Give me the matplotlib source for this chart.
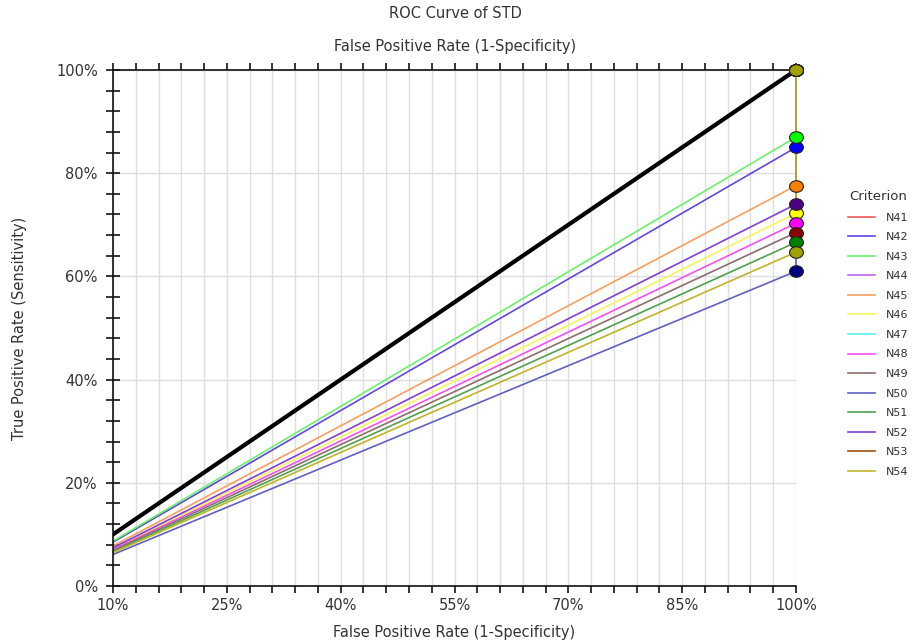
import numpy as np
import matplotlib
matplotlib.use("Agg")
import matplotlib.pyplot as plt
from matplotlib.ticker import MultipleLocator, FuncFormatter
from matplotlib.path import Path
from matplotlib.transforms import Affine2D, Bbox, TransformedBbox

# criteria and the sensitivity reached at FPR = 100%
criteria = ["N41", "N42", "N43", "N44", "N45", "N46", "N47",
            "N48", "N49", "N50", "N51", "N52", "N53", "N54"]
tpr_end = [1.00, 0.85, 0.87, 1.00, 0.776, 0.722, 1.00,
           0.703, 0.685, 0.610, 0.666, 0.740, 1.00, 0.647]

line_colors = ["#f05a5a", "#6048e0", "#6cf06c", "#c864f0", "#f5a060", "#f5f55a", "#5af0f0",
               "#f550f0", "#8c6e6e", "#6060c0", "#50a050", "#8040d0", "#a05014", "#c0b428"]
marker_colors = ["#ff0000", "#0000ff", "#00ff00", "#a020f0", "#ff7f00", "#ffff00", "#00ffff",
                 "#ff00ff", "#8b0000", "#000080", "#008000", "#4b0082", "#8b4513", "#a0a000"]

# ROC points: origin -> (1, tpr) -> (1, 1)
fpr_pts = [0.0, 1.0, 1.0]

# slightly flattened circle marker
oval = Path.unit_circle().transformed(Affine2D().scale(1.2, 1.0))

fig = plt.figure(figsize=(9.21, 6.42), dpi=100)
ax = fig.add_axes([113 / 921, 1 - 586 / 642, 683 / 921, 516 / 642])
clip = TransformedBbox(Bbox([[0, 0], [1.02, 1.01]]), ax.transAxes)

txt = "#333333"
for name, v, lc, mc in zip(criteria, tpr_end, line_colors, marker_colors):
    tpr_pts = [0.0, v, 1.0]
    ln, = ax.plot(fpr_pts, tpr_pts, color=lc, lw=1.2, label=name, zorder=2)
    ln.set_clip_box(clip)
    ax.plot(fpr_pts[1:], tpr_pts[1:], ls="none", marker=oval, ms=10, mfc=mc, mec="#222222",
            mew=0.8, zorder=5, clip_on=False)

# chance / reference line
ax.plot([0, 1], [0, 1], color="black", lw=3, zorder=3)

ax.set_xlim(0.1, 1.0)
ax.set_ylim(0, 1.0)

pct = FuncFormatter(lambda v, p: f"{v * 100:.0f}%")
ax.xaxis.set_major_locator(MultipleLocator(0.15, offset=0.1))
ax.xaxis.set_minor_locator(MultipleLocator(0.03, offset=0.1))
ax.yaxis.set_major_locator(MultipleLocator(0.2))
ax.yaxis.set_minor_locator(MultipleLocator(0.04))
ax.xaxis.set_major_formatter(pct)
ax.yaxis.set_major_formatter(pct)

ax.grid(True, which="both", axis="x", color="#dedede", lw=1.0, zorder=0)
ax.grid(True, which="major", axis="y", color="#dedede", lw=1.0, zorder=0)
ax.set_axisbelow(True)

ax.spines["right"].set_visible(False)
for s in ["left", "bottom", "top"]:
    ax.spines[s].set_color("#111111")
    ax.spines[s].set_linewidth(1.2)

ax.tick_params(axis="x", which="both", direction="out", length=5, width=1.1,
               top=True, labeltop=False, labelsize=10.5, labelcolor=txt, pad=4)
ax.tick_params(axis="y", which="both", direction="inout", length=10, width=1.1,
               labelsize=10.5, labelcolor=txt, pad=6)

ax.set_xlabel("False Positive Rate (1-Specificity)", fontsize=10.5, color=txt, labelpad=8)
ax.set_ylabel("True Positive Rate (Sensitivity)", fontsize=10.5, color=txt, labelpad=21)

# duplicate axis title above the plot
fig.text(455 / 921, 1 - 46 / 642, "False Positive Rate (1-Specificity)", ha="center",
         va="center", fontsize=10.5, color=txt)
fig.text(455 / 921, 1 - 13 / 642, "ROC Curve of STD", ha="center", va="center",
         fontsize=10.5, color=txt)

leg = fig.legend(loc="upper left", bbox_to_anchor=(838 / 921, 1 - 180 / 642), frameon=False,
                 title="Criterion", fontsize=8, title_fontsize=9.5, handlelength=2.4,
                 labelspacing=0.86, handletextpad=1.0)
for t in leg.get_texts():
    t.set_color(txt)
leg.get_title().set_color(txt)

fig.savefig("out.png", dpi=100)
